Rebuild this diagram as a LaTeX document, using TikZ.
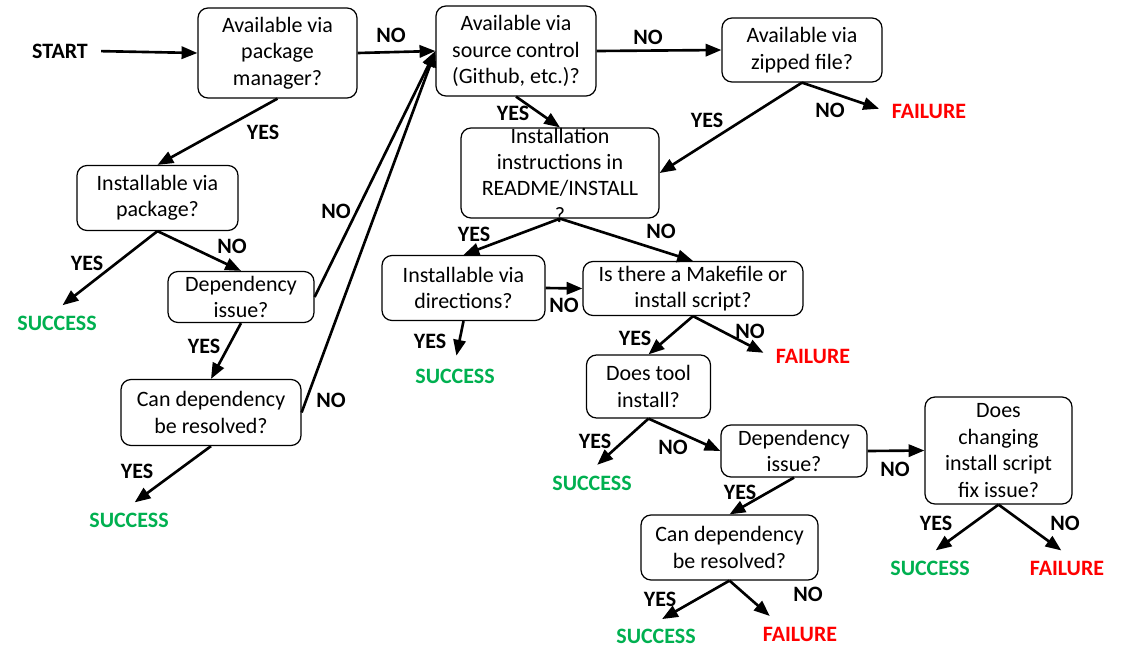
\documentclass[tikz,border=0pt]{standalone}
\usepackage{fontspec}
\setmainfont{Carlito}
\usetikzlibrary{arrows.meta}
\definecolor{okgreen}{RGB}{0,176,80}
\definecolor{badred}{RGB}{255,0,0}

\begin{document}
\begin{tikzpicture}[x=0.02cm, y=-0.02cm,
    box/.style={draw, rectangle, rounded corners=0.2cm, line width=0.7pt, align=center, inner sep=0pt, font=\fontsize{12.5}{15}\selectfont},
    lbl/.style={font=\fontsize{12.5}{15}\selectfont\bfseries},
    good/.style={lbl, text=okgreen},
    bad/.style={lbl, text=badred},
    arr/.style={-{Triangle[length=9pt, width=7pt]}, line width=1.5pt},
    toend/.style={arr, shorten >=4pt}]
    \useasboundingbox (0,0) rectangle (1127,650);

    \node[lbl] (start) at (60,51) {START};
    \node[box, minimum width=3.18cm, minimum height=1.8cm] (pkgmgr) at (277.5,53) {Available via\\package\\manager?};
    \node[box, minimum width=3.2cm, minimum height=1.8cm] (srcctl) at (516,51) {Available via\\source control\\(Github, etc.)?};
    \node[box, minimum width=3.2cm, minimum height=1.28cm] (zipped) at (802,50) {Available via\\zipped file?};
    \node[box, minimum width=3.96cm, minimum height=1.8cm] (readme) at (560,173) {};
    \node[align=center, inner sep=0pt, font=\fontsize{12.5}{15}\selectfont] (readmetext) at (560,175) {Installation\\instructions in\\README/INSTALL\\?};
    \node[box, minimum width=3.26cm, minimum height=1.3cm] (instdir) at (463.5,288) {Installable via\\directions?};
    \node[box, minimum width=4.4cm, minimum height=1.08cm] (makefile) at (693,288.5) {Is there a Makefile or\\install script?};
    \node[box, minimum width=2.48cm, minimum height=1.26cm] (doestool) at (648.5,386.5) {Does tool\\install?};
    \node[box, minimum width=2.92cm, minimum height=1.04cm] (dep2) at (794,451) {Dependency\\issue?};
    \node[box, minimum width=2.94cm, minimum height=2.14cm] (changing) at (998.5,450.5) {Does\\changing\\install script\\fix issue?};
    \node[box, minimum width=3.54cm, minimum height=1.3cm] (candep2) at (729.5,547.5) {Can dependency\\be resolved?};
    \node[box, minimum width=3.22cm, minimum height=1.3cm] (instpkg) at (157.5,198) {Installable via\\package?};
    \node[box, minimum width=2.92cm, minimum height=1.02cm] (dep1) at (241,297) {Dependency\\issue?};
    \node[box, minimum width=3.6cm, minimum height=1.32cm] (candep1) at (211,412.5) {Can dependency\\be resolved?};

    \node[good] (s1) at (57,323) {SUCCESS};
    \node[good] (s2) at (129,520) {SUCCESS};
    \node[good] (s3) at (455,376) {SUCCESS};
    \node[good] (s4) at (592,483) {SUCCESS};
    \node[good] (s5) at (930,568) {SUCCESS};
    \node[good] (s6) at (656,636) {SUCCESS};
    \node[bad] (f1) at (929,111) {FAILURE};
    \node[bad] (f2) at (813,356) {FAILURE};
    \node[bad] (f3) at (1067,568) {FAILURE};
    \node[bad] (f4) at (800,634) {FAILURE};

    \node[lbl] (no1) at (391,35) {NO};
    \node[lbl] (yes1) at (263,132) {YES};
    \node[lbl] (no2) at (648,37) {NO};
    \node[lbl] (yes2) at (513,113) {YES};
    \node[lbl] (yes3) at (707,120) {YES};
    \node[lbl] (no3) at (830,110) {NO};
    \node[lbl] (yes4) at (474,234) {YES};
    \node[lbl] (no4) at (661,231) {NO};
    \node[lbl] (no5) at (564,305) {NO};
    \node[lbl] (yes5) at (430,341) {YES};
    \node[lbl] (yes6) at (635,338) {YES};
    \node[lbl] (no6) at (750,331) {NO};
    \node[lbl] (yes7) at (595,441) {YES};
    \node[lbl] (no7) at (673,447) {NO};
    \node[lbl] (no8) at (895,469) {NO};
    \node[lbl] (yes8) at (740,492) {YES};
    \node[lbl] (yes9) at (660,599) {YES};
    \node[lbl] (no9) at (808,594) {NO};
    \node[lbl] (yes10) at (936,523) {YES};
    \node[lbl] (no10) at (1065,523) {NO};
    \node[lbl] (yes11) at (87,263) {YES};
    \node[lbl] (no11) at (232,246) {NO};
    \node[lbl] (yes12) at (204,346) {YES};
    \node[lbl] (no12) at (336,211) {NO};
    \node[lbl] (no13) at (331,400) {NO};
    \node[lbl] (yes13) at (137,471) {YES};

    \draw[arr, shorten <=4pt] (start.east) -- (pkgmgr.west);
    \draw[arr] (pkgmgr.east) -- (srcctl.west);
    \draw[arr] (pkgmgr.south) -- (instpkg.north);
    \draw[arr] (srcctl.east) -- (zipped.west);
    \draw[arr] (srcctl.south) -- (readme.north);
    \draw[arr] (zipped.south) -- (readme.east);
    \draw[toend] (zipped.south) -- (f1.west);
    \draw[arr] (readme.south) -- (instdir.north);
    \draw[arr] (readme.south) -- (makefile.north);
    \draw[arr] (instdir.east) -- (makefile.west);
    \draw[toend] (instdir.south) -- (s3.north);
    \draw[arr] (makefile.south) -- (doestool.north);
    \draw[toend] (makefile.south) -- (f2.west);
    \draw[toend] (doestool.south) -- (s4.north);
    \draw[arr] (doestool.south) -- (dep2.west);
    \draw[arr] (dep2.east) -- (changing.west);
    \draw[arr] (dep2.south) -- (candep2.north);
    \draw[toend] (candep2.south) -- (s6.north);
    \draw[toend] (candep2.south) -- ([xshift=-0.5cm]f4.north);
    \draw[toend] (changing.south) -- (s5.north);
    \draw[toend] (changing.south) -- (f3.north);
    \draw[toend] (instpkg.south) -- (s1.north);
    \draw[arr] (instpkg.south) -- (dep1.north);
    \draw[arr] (dep1.south) -- (candep1.north);
    \draw[arr] (dep1.east) -- (srcctl.west);
    \draw[arr] (candep1.east) -- (srcctl.west);
    \draw[toend] (candep1.south) -- (s2.north);
\end{tikzpicture}
\end{document}
